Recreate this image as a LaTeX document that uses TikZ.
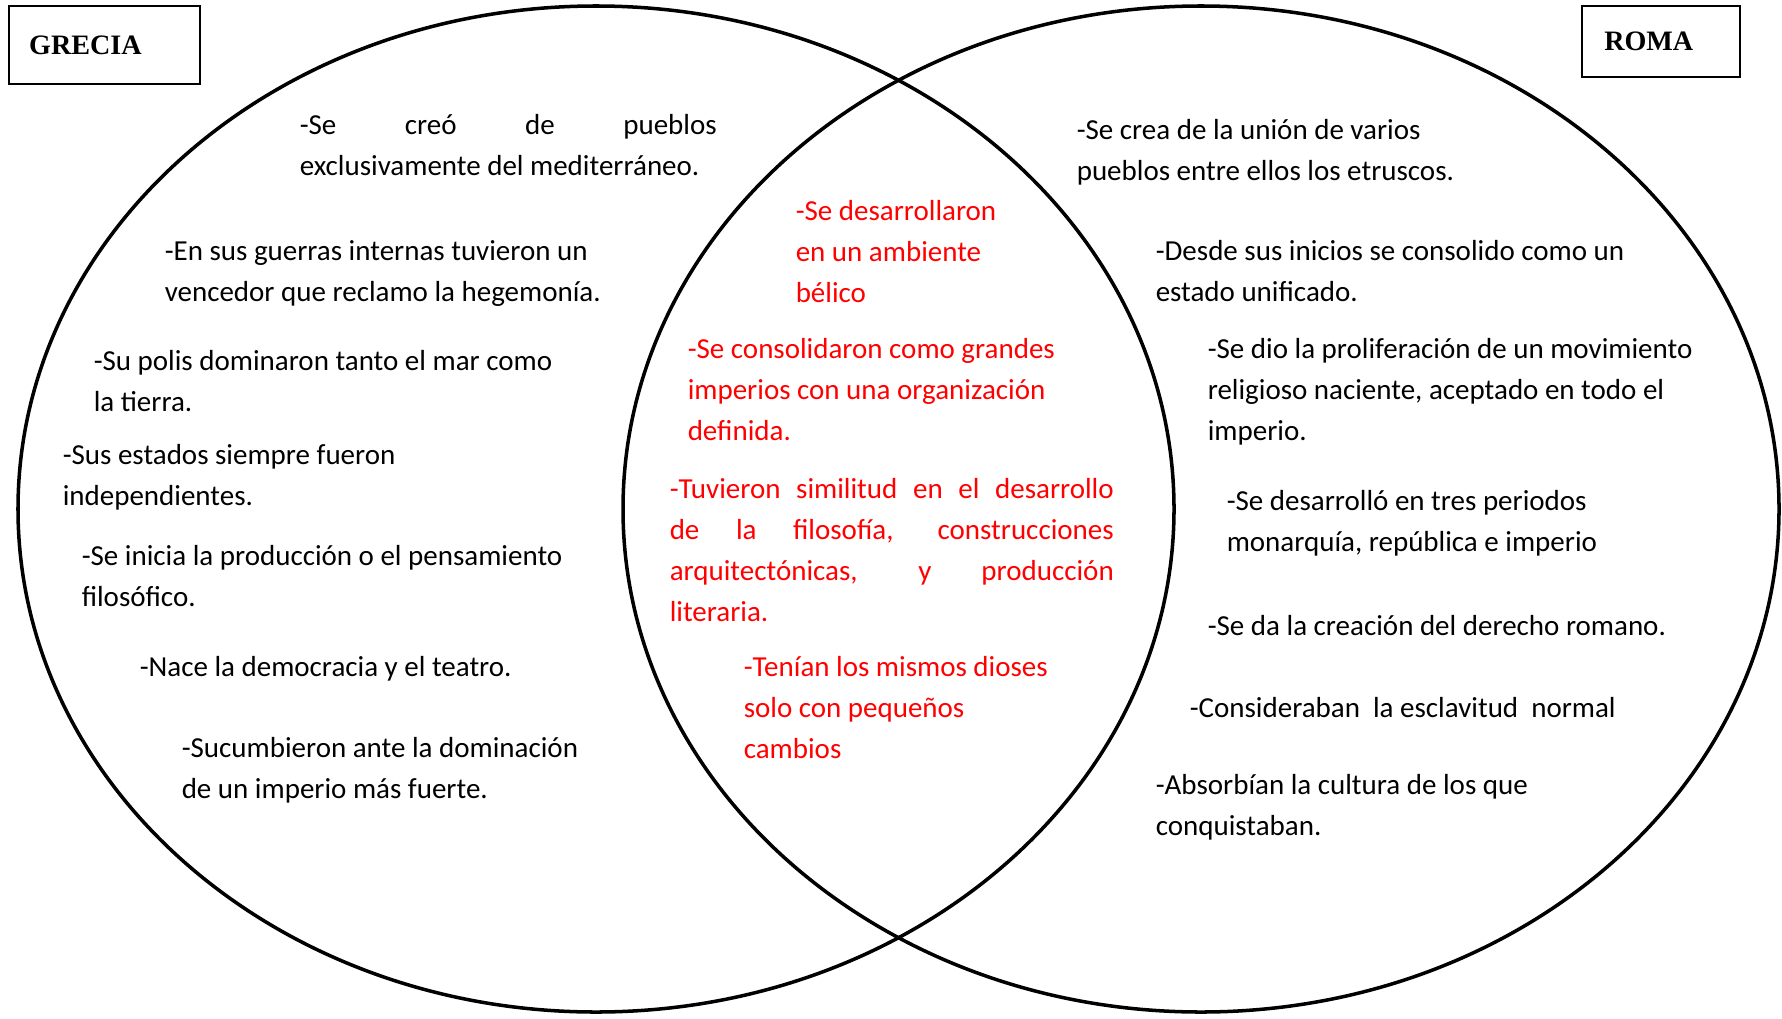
\documentclass[tikz,border=0pt]{standalone}
\usepackage{fontspec}
\setmainfont{Carlito}
\newfontfamily\titlefont{Liberation Serif}
\usetikzlibrary{positioning}
\tolerance=10000
\hbadness=10000
\hyphenpenalty=10000
\adjdemerits=0

\begin{document}
\begin{tikzpicture}[line width=1pt,
  texto/.style={anchor=north west, inner sep=0pt, align=left, text width=6cm,
    font=\fontsize{8.25}{11.67}\selectfont,
    execute at begin node={\spaceskip=0pt\xspaceskip=0pt\strut}},
  comun/.style={texto, text=red},
  justo/.style={align=justify, text width=#1},
  titulo/.style={draw, line width=0.7pt, anchor=north west, align=left,
    inner ysep=0pt, font=\titlefont\bfseries\fontsize{8}{9}\selectfont}]

\useasboundingbox (0,0) rectangle (17.82,10.18);

\draw (5.96,5.09) ellipse (5.78 and 5.03);
\draw (12.01,5.09) ellipse (5.78 and 5.03);

\node[titulo, minimum width=1.91cm, minimum height=0.78cm, text width=1.51cm, inner xsep=0.2cm] (grecia) at (0.08,10.13) {GRECIA};
\node[titulo, minimum width=1.58cm, minimum height=0.71cm, text width=1.14cm, inner xsep=0.22cm] (roma) at (15.81,10.13) {ROMA};

\node[texto, justo=4.17cm] (g1) at (2.98,9.14) {-Se creó de pueblos\linebreak exclusivamente del mediterráneo.};
\node[texto] (g2) at (1.63,7.88) {-En sus guerras internas tuvieron un\\vencedor que reclamo la hegemonía.};
\node[texto] (g3) at (0.92,6.78) {-Su polis dominaron tanto el mar como\\la tierra.};
\node[texto] (g4) at (0.61,5.84) {-Sus estados siempre fueron\\independientes.};
\node[texto] (g5) at (0.80,4.83) {-Se inicia la producción o el pensamiento\\filosófico.};
\node[texto] (g6) at (1.38,3.72) {-Nace la democracia y el teatro.};
\node[texto] (g7) at (1.80,2.91) {-Sucumbieron ante la dominación\\de un imperio más fuerte.};

\node[comun] (c1) at (7.94,8.28) {-Se desarrollaron\\en un ambiente\\bélico};
\node[comun] (c2) at (6.86,6.90) {-Se consolidaron como grandes\\imperios con una organización\\definida.};
\node[comun, justo=4.44cm] (c3) at (6.68,5.50) {-Tuvieron similitud en el desarrollo\linebreak de la filosofía, construcciones\linebreak arquitectónicas, y producción\linebreak literaria.};
\node[comun] (c4) at (7.42,3.72) {-Tenían los mismos dioses\\solo con pequeños\\cambios};

\node[texto] (r1) at (10.75,9.09) {-Se crea de la unión de varios\\pueblos entre ellos los etruscos.};
\node[texto] (r2) at (11.54,7.88) {-Desde sus inicios se consolido como un\\estado unificado.};
\node[texto] (r3) at (12.06,6.90) {-Se dio la proliferación de un movimiento\\religioso naciente, aceptado en todo el\\imperio.};
\node[texto] (r4) at (12.25,5.38) {-Se desarrolló en tres periodos\\monarquía, república e imperio};
\node[texto] (r5) at (12.06,4.13) {-Se da la creación del derecho romano.};
\node[texto] (r6) at (11.88,3.31) {-Consideraban\ \ la esclavitud\ \ normal};
\node[texto] (r7) at (11.54,2.54) {-Absorbían la cultura de los que\\conquistaban.};
\end{tikzpicture}
\end{document}
